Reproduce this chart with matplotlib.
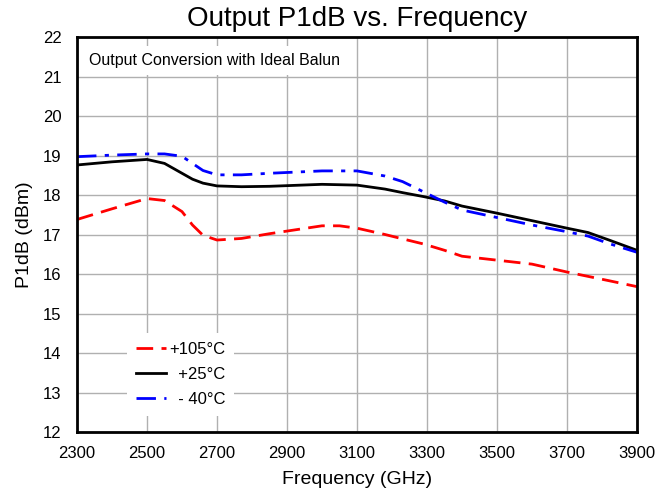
import numpy as np
import matplotlib
matplotlib.use("Agg")
import matplotlib.pyplot as plt

plt.rcParams['font.family'] = ['Liberation Sans', 'DejaVu Sans']

# frequency points (GHz)
freq = [2300, 2400, 2500, 2550, 2600, 2630, 2660, 2700, 2770, 2850, 3000, 3050,
        3100, 3180, 3230, 3290, 3350, 3400, 3500, 3600, 3700, 3760, 3820, 3900]
p_105 = [17.38, 17.65, 17.91, 17.86, 17.58, 17.24, 16.98, 16.86, 16.90, 17.02, 17.22, 17.22,
         17.16, 17.00, 16.89, 16.76, 16.60, 16.45, 16.35, 16.25, 16.05, 15.94, 15.83, 15.68]
p_25 = [18.76, 18.84, 18.90, 18.80, 18.55, 18.40, 18.30, 18.23, 18.21, 18.22, 18.27, 18.26,
        18.25, 18.15, 18.06, 17.96, 17.85, 17.72, 17.54, 17.35, 17.16, 17.05, 16.86, 16.60]
p_m40 = [18.97, 19.01, 19.04, 19.04, 18.98, 18.80, 18.62, 18.51, 18.51, 18.55, 18.61, 18.61,
         18.61, 18.48, 18.34, 18.08, 17.82, 17.62, 17.43, 17.24, 17.07, 16.96, 16.77, 16.55]

fig = plt.figure(figsize=(6.69, 4.92), dpi=100)
ax = fig.add_axes([77/669, 60/492, 560/669, 395/492])

ax.plot(freq, p_105, color='red', lw=2, ls=(0, (6, 3)), label='+105°C')
ax.plot(freq, p_25, color='black', lw=2, label='  +25°C')
ax.plot(freq, p_m40, color='blue', lw=2, ls=(0, (7, 3, 1.5, 3)), label='  - 40°C')

ax.set_xlim(2300, 3900)
ax.set_ylim(12, 22)
ax.set_xticks(np.arange(2300, 3901, 200))
ax.set_yticks(np.arange(12, 23, 1))
ax.tick_params(axis='x', labelsize=12, length=0, pad=10)
ax.tick_params(axis='y', labelsize=12, length=0, pad=11)
ax.grid(True, color='#b0b0b0', lw=1)
for s in ax.spines.values():
    s.set_linewidth(2)
    s.set_color('black')

ax.set_title('Output P1dB vs. Frequency', fontsize=20, pad=8)
ax.set_xlabel('Frequency (GHz)', fontsize=14, labelpad=7)
ax.set_ylabel('P1dB (dBm)', fontsize=14, labelpad=7)

ax.text(2335, 21.4, 'Output Conversion with Ideal Balun', fontsize=11.5, va='center',
        bbox=dict(facecolor='white', edgecolor='none', pad=5))

leg = ax.legend(loc='upper left', bbox_to_anchor=(0.09, 0.25), frameon=True,
                facecolor='white', edgecolor='none', framealpha=1, fontsize=12,
                handlelength=1.8, handletextpad=0.2, labelspacing=0.62,
                borderpad=0.5, borderaxespad=0)

fig.savefig('out.png', dpi=100)
